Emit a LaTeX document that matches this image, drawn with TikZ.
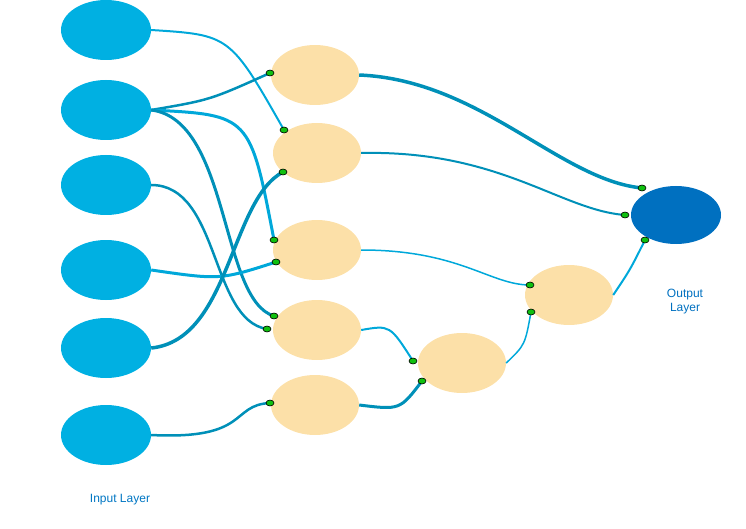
\documentclass[tikz,border=0pt]{standalone}
\usepackage{fontspec}
\setmainfont{Liberation Sans}
\usetikzlibrary{shapes.geometric}
\definecolor{incol}{HTML}{00B0E2}
\definecolor{hidcol}{HTML}{FCE0A8}
\definecolor{outcol}{HTML}{0070C0}
\definecolor{wirecol}{HTML}{00A8DA}
\definecolor{darkwire}{HTML}{0090B8}
\definecolor{dotcol}{HTML}{10C010}
\begin{document}
\begin{tikzpicture}[x=1pt,y=-1pt,
  inp/.style={ellipse,fill=incol,minimum width=90pt,minimum height=60pt},
  hid/.style={ellipse,fill=hidcol,minimum width=88pt,minimum height=60pt},
  outp/.style={ellipse,fill=outcol,minimum width=90pt,minimum height=58pt},
  wire/.style={wirecol,line width=2pt},
  dwire/.style={darkwire,line width=3pt},
  pin/.style={ellipse,draw=black,fill=dotcol,inner sep=0pt,minimum width=8pt,minimum height=6pt,line width=0.6pt}]
\useasboundingbox (0,0) rectangle (746,529);
\node[inp] (in1) at (106,30) {};
\node[inp] (in2) at (106,110) {};
\node[inp] (in3) at (106,185) {};
\node[inp] (in4) at (106,270) {};
\node[inp] (in5) at (106,348) {};
\node[inp] (in6) at (106,435) {};
\node[hid] (h1) at (315,75) {};
\node[hid] (h2) at (317,153) {};
\node[hid] (h3) at (317,250) {};
\node[hid] (h4) at (317,330) {};
\node[hid] (h5) at (315,405) {};
\node[hid] (h6) at (462,363) {};
\node[hid] (h7) at (569,295) {};
\node[outp] (out) at (676,215) {};
\node[font=\large,text=outcol!90!incol] (inlab) at (120,500) {Input Layer};
\node[font=\large,text=outcol,align=center] (outlab) at (685,302) {Output\\Layer};
% pins
\coordinate (p1) at (284,130); \coordinate (p2) at (270,73);
\coordinate (p3) at (274,240); \coordinate (p4) at (274,316);
\coordinate (p5) at (267,329); \coordinate (p6) at (276,262);
\coordinate (p7) at (283,172); \coordinate (p8) at (270,403);
\coordinate (p9) at (642,188); \coordinate (p10) at (625,215);
\coordinate (p11) at (530,285); \coordinate (p12) at (413,361);
\coordinate (p13) at (422,381); \coordinate (p14) at (531,312);
\coordinate (p15) at (645,240);
% wires
\draw[wire] (in1.east) .. controls (230,35) .. (p1);
\draw[dwire,line width=2.5pt] (in2.east) .. controls (210,100) .. (p2);
\draw[wire,line width=3pt] (in2.east) .. controls (250,115) .. (p3);
\draw[dwire] (in2.east) .. controls (230,120) and (220,300) .. (p4);
\draw[dwire,line width=2.5pt] (in3.east) .. controls (220,185) and (210,320) .. (p5);
\draw[wire,line width=3pt] (in4.east) .. controls (220,280) .. (p6);
\draw[dwire,line width=3.5pt] (in5.east) .. controls (230,340) and (230,200) .. (p7);
\draw[dwire,line width=2.5pt] (in6.east) .. controls (250,440) and (230,405) .. (p8);
\draw[dwire,line width=3.5pt] (h1.east) .. controls (480,80) and (560,180) .. (p9);
\draw[dwire,line width=2pt] (h2.east) .. controls (500,150) and (560,210) .. (p10);
\draw[wire,line width=1.5pt] (h3.east) .. controls (460,250) and (490,285) .. (p11);
\draw[wire] (h4.east) .. controls (390,325) .. (p12);
\draw[dwire,line width=3pt] (h5.east) .. controls (400,410) .. (p13);
\draw[wire,line width=1.5pt] (h6.east) .. controls (525,345) .. (p14);
\draw[wire] (h7.east) .. controls (630,270) .. (p15);
\foreach \p in {1,...,15} \node[pin] (pin\p) at (p\p) {};
\end{tikzpicture}
\end{document}
